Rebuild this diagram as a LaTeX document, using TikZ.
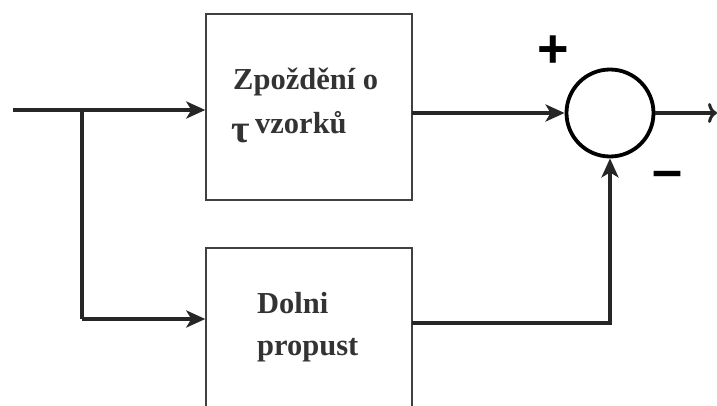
\documentclass[tikz,border=0pt]{standalone}
\usepackage{fontspec}
\setmainfont{Liberation Serif}
\newfontfamily\signfont{Liberation Sans}
\usetikzlibrary{arrows.meta}
\begin{document}
\begin{tikzpicture}[x=1pt,y=-1pt,
  blockbox/.style={draw=black!75,line width=1.4pt,fill=white,inner sep=0pt},
  sumnode/.style={circle,draw=black,line width=3.8pt,minimum size=87pt,inner sep=0pt},
  wire/.style={line width=3.8pt,draw=black!85},
  arr/.style={wire,-{Stealth[length=19pt,width=17pt,inset=5pt]}},
  outarr/.style={wire,-{To[length=9pt,width=20pt,line width=3pt]}},
  lbl/.style={font=\fontsize{30.5}{34}\selectfont\bfseries,text=black!80,anchor=base west,inner sep=0pt},
  sign/.style={font=\signfont\bfseries\fontsize{54}{54}\selectfont,inner sep=0pt}]
\useasboundingbox (0,0) rectangle (717,406);
\clip (0,0) rectangle (717,406);

% blocks
\node[blockbox,minimum width=206pt,minimum height=186pt] (delay) at (309,107) {};
\node[blockbox,minimum width=206pt,minimum height=186pt] (lowpass) at (309,341) {};
\node[sumnode] (sum) at (610,113) {};

% block texts
\node[lbl] (t1) at (233,90) {Zpoždění o};
\node[lbl,font=\fontsize{40}{40}\selectfont\bfseries] (t2) at (231,143) {τ};
\node[lbl] (t3) at (255,134) {vzorků};
\node[lbl] (t4) at (257,313) {Dolni};
\node[lbl] (t5) at (257,355) {propust};

% signs at the summing junction
\node[sign] (plus) at (553,52) {+};
\node[sign] (minus) at (668,180) {–};

% signal paths
\coordinate (in) at (13,110);
\coordinate (split) at (82,110);
\coordinate (lowin) at (82,319);
\coordinate (dout) at (412,113);
\coordinate (lout) at (412,323);
\coordinate (out) at (717,113);

\draw[arr] (in) -- (in -| delay.west);
\draw[wire] (split) -- (lowin);
\draw[arr] (lowin) -- (lowin -| lowpass.west);
\draw[arr] (dout) -- (sum.west);
\draw[arr] (lout) -| (sum.south);
\draw[outarr] (sum.east) -- (out);
\end{tikzpicture}
\end{document}
